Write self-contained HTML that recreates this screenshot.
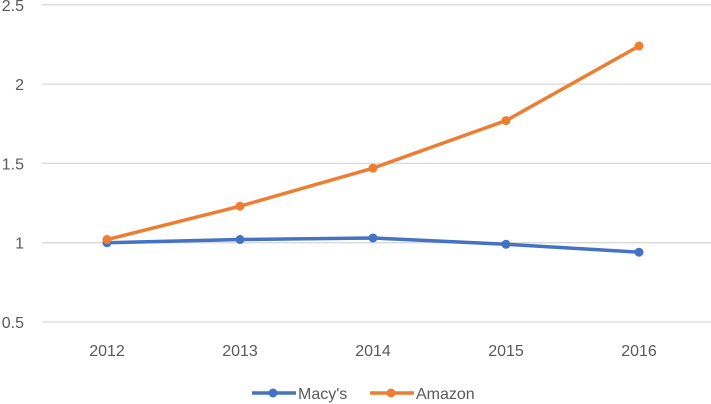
<!DOCTYPE html>
<html><head><meta charset="utf-8"><style>
body{margin:0;background:#fff;}
svg{display:block;font-family:"Liberation Sans",sans-serif;}
</style></head><body>
<svg id="chart" width="711" height="404">
<g id="grid"></g>
<g id="ylabels"></g>
<g id="xlabels"></g>
<g id="series"></g>
<g>
 <g>
  <line x1="252" y1="393" x2="296" y2="393" stroke="#4472C4" stroke-width="3.5"/>
  <circle cx="273" cy="393" r="4.5" fill="#4472C4"/>
  <text x="298" y="399" font-size="16" fill="#595959">Macy's</text>
 </g>
 <g>
  <line x1="370" y1="393" x2="414" y2="393" stroke="#ED7D31" stroke-width="3.5"/>
  <circle cx="391" cy="393" r="4.5" fill="#ED7D31"/>
  <text x="416" y="399" font-size="16" fill="#595959">Amazon</text>
 </g>
</g>
</svg>
<script>
const categories=["2012","2013","2014","2015","2016"];
const macys=[1.0,1.02,1.03,0.99,0.94];
const amazon=[1.02,1.23,1.47,1.77,2.24];
const yTicks=[0.5,1,1.5,2,2.5];
const yTickLabels=["0.5","1","1.5","2","2.5"];
const NS="http://www.w3.org/2000/svg";
function y(v){return 322-(v-0.5)*158.6;}
function x(i){return 107+i*133;}
function mk(tag,attrs,parent){const e=document.createElementNS(NS,tag);for(const k in attrs)e.setAttribute(k,attrs[k]);parent.appendChild(e);return e;}
const grid=document.getElementById('grid'),yl=document.getElementById('ylabels'),xl=document.getElementById('xlabels'),ser=document.getElementById('series');
yTicks.forEach((t,i)=>{
 const l=mk('line',{x1:42,x2:711,y1:y(t),y2:y(t),stroke:'#d9d9d9','stroke-width':1.3},grid);
 
 
 const tx=mk('text',{x:24,y:y(t)+6,'text-anchor':'end','font-size':16,fill:'#595959'},yl);
 tx.textContent=yTickLabels[i];
 
 
});
categories.forEach((c,i)=>{
 const tx=mk('text',{x:x(i),y:356,'text-anchor':'middle','font-size':16,fill:'#595959'},xl);
 tx.textContent=c;
 
 
});
function draw(vals,color,name){
 const p=mk('polyline',{points:vals.map((v,i)=>x(i)+','+y(v)).join(' '),fill:'none',stroke:color,'stroke-width':3.5,'stroke-linejoin':'round'},ser);
 
 
 vals.forEach((v,i)=>{
  const c=mk('circle',{cx:x(i),cy:y(v),r:4.5,fill:color},ser);
  
  
 });
}
draw(macys,'#4472C4','macys');
draw(amazon,'#ED7D31','amazon');
</script>
</body></html>
